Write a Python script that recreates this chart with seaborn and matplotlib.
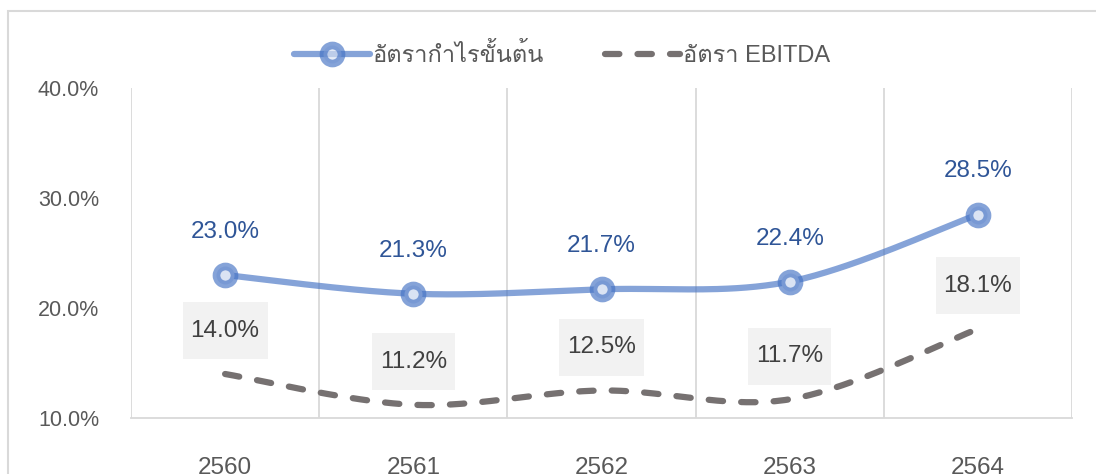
import numpy as np
import pandas as pd
import matplotlib
matplotlib.use("Agg")
import matplotlib.pyplot as plt
from matplotlib.lines import Line2D
from matplotlib.patches import Rectangle
from matplotlib.path import Path
from matplotlib import font_manager as fm
import seaborn as sns

# ---- data ----
years = ["2560", "2561", "2562", "2563", "2564"]
gross_margin = [23.0, 21.3, 21.7, 22.4, 28.5]
ebitda_margin = [14.0, 11.2, 12.5, 11.7, 18.1]
series_names = ["อัตรากำไรขั้นต้น", "อัตรา EBITDA"]
y_ticks = [10.0, 20.0, 30.0, 40.0]

# ---- find a font with Thai glyphs ----
thai_family = None
try:
    from fontTools.ttLib import TTFont
    for f in fm.fontManager.ttflist:
        try:
            tt = TTFont(f.fname, fontNumber=0, lazy=True)
            cmap = tt.getBestCmap()
            if cmap and 0x0E2D in cmap and 0x0E33 in cmap:
                thai_family = f.name
                break
        except Exception:
            pass
except Exception:
    pass

sns.set_theme(style="white")
fams = ["Liberation Sans"]
if thai_family:
    fams.append(thai_family)
fams.append("DejaVu Sans")
plt.rcParams["font.family"] = fams


def smooth(xs, ys, n=40):
    """Excel-like smoothed path (Catmull-Rom -> cubic Bezier)."""
    xs = np.asarray(xs, float)
    ys = np.asarray(ys, float)
    px = np.concatenate([[xs[0]], xs, [xs[-1]]])
    py = np.concatenate([[ys[0]], ys, [ys[-1]]])
    ox, oy = [], []
    t = np.linspace(0, 1, n)
    for i in range(1, len(px) - 2):
        p0 = np.array([px[i], py[i]])
        p3 = np.array([px[i + 1], py[i + 1]])
        c1 = p0 + (np.array([px[i + 1], py[i + 1]]) - np.array([px[i - 1], py[i - 1]])) / 6
        c2 = p3 - (np.array([px[i + 2], py[i + 2]]) - np.array([px[i], py[i]])) / 6
        b = ((1 - t) ** 3)[:, None] * p0 + (3 * (1 - t) ** 2 * t)[:, None] * c1 \
            + (3 * (1 - t) * t ** 2)[:, None] * c2 + (t ** 3)[:, None] * p3
        ox.extend(b[:, 0]); oy.extend(b[:, 1])
    return np.array(ox), np.array(oy)


def label_box(x0, y0, width, height, mutation_size):
    padx = 0.33 * mutation_size
    pady = 0.72 * mutation_size
    xa, xb = x0 - padx, x0 + width + padx
    ya, yb = y0 - pady, y0 + height + pady
    return Path([(xa, ya), (xb, ya), (xb, yb), (xa, yb), (xa, ya)], closed=True)


fig = plt.figure(figsize=(10.96, 4.74), dpi=100)
W, H = 1096, 474
ax = fig.add_axes([131 / W, 1 - 418 / H, (1072 - 131) / W, (418 - 88) / H])

xpos = np.arange(len(years))
blue = "#4472c4"
blue_alpha = 0.65
blue_rgba = (0.267, 0.447, 0.769, blue_alpha)
gray = "#767171"
dash = (0, (2.3, 2.9))

# smoothed lines
sx, sy = smooth(xpos, gross_margin)
df_g = pd.DataFrame({"x": sx, "y": sy})
sns.lineplot(data=df_g, x="x", y="y", ax=ax, color=blue, alpha=blue_alpha,
             lw=4.5, sort=False, estimator=None, solid_capstyle="round", zorder=3)

ex, ey = smooth(xpos, ebitda_margin)
df_e = pd.DataFrame({"x": ex, "y": ey})
sns.lineplot(data=df_e, x="x", y="y", ax=ax, color=gray, lw=4.5, sort=False,
             estimator=None, zorder=3)
ax.lines[-1].set_linestyle(dash)
ax.lines[-1].set_dash_capstyle("round")

# markers for gross margin
df_pts = pd.DataFrame({"x": xpos, "y": gross_margin})
ax.plot(df_pts["x"], df_pts["y"], ls="none", marker="o", ms=13,
        mfc="#dae3f3", mec=blue_rgba, mew=5.5, zorder=4)

# data labels
for x, v in zip(xpos, gross_margin):
    ax.annotate(f"{v:.1f}%", (x, v), xytext=(0, 31), textcoords="offset points",
                ha="center", va="center", fontsize=17.5, color="#2f5597", zorder=5)
for x, v in zip(xpos, ebitda_margin):
    ax.annotate(f"{v:.1f}%", (x, v), xytext=(0, 31), textcoords="offset points",
                ha="center", va="center", fontsize=17.5, color="#404040", zorder=5,
                bbox=dict(boxstyle=label_box, fc="#f2f2f2", ec="none"))

# axes styling
ax.set_xlim(-0.5, len(years) - 0.5)
ax.set_ylim(10, 40)
ax.set_yticks(y_ticks)
ax.set_yticklabels([f"{t:.1f}%" for t in y_ticks])
ax.set_xticks(xpos)
ax.set_xticklabels(years)
ax.tick_params(axis="y", length=0, pad=23, labelsize=15.5, labelcolor="#595959")
ax.tick_params(axis="x", length=0, pad=28, labelsize=17.5, labelcolor="#595959")
ax.set_xlabel("")
ax.set_ylabel("")
for b in np.arange(-0.5, len(years), 1.0):
    ax.axvline(b, color="#d9d9d9", lw=1.3, zorder=1)
for s in ["top", "left", "right"]:
    ax.spines[s].set_visible(False)
ax.spines["bottom"].set_color("#d9d9d9")
ax.spines["bottom"].set_linewidth(1.3)
ax.grid(False)

# legend
h1 = Line2D([], [], color=blue, alpha=blue_alpha, lw=4.5, marker="o", ms=13,
            mfc="#dae3f3", mec=blue_rgba, mew=5.5)
h2 = Line2D([], [], color=gray, lw=4.5, ls=dash, dash_capstyle="round")
fig.legend([h1, h2], series_names, loc="center", bbox_to_anchor=(562 / W, 1 - 55 / H),
           ncol=2, frameon=False, fontsize=17, handlelength=3.2, columnspacing=2.6,
           handletextpad=0.1, labelcolor="#595959")

# chart border
fig.patches.append(Rectangle((7.5 / W, -0.1), 1.2, 1 - 10.5 / H + 0.1,
                             transform=fig.transFigure, fill=False,
                             ec="#d9d9d9", lw=1.5))

fig.savefig("out.png", dpi=100)
